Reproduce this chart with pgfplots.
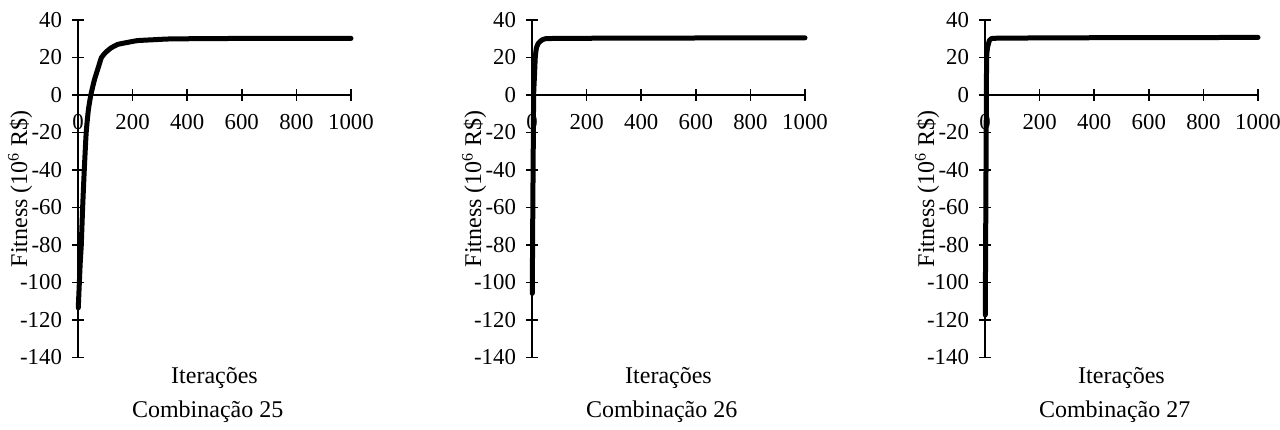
\documentclass[border=0pt]{standalone}
\usepackage{pgfplots}
\pgfplotsset{compat=1.18}
\usepackage{fontspec}
\setmainfont{Liberation Serif}
\newcommand\tf{\fontsize{11.4}{13}\selectfont}
\pgfplotstableread{
x y
1 -113.5
5 -100
8 -90
12 -80
17 -60
23 -40
30 -20
38 -8
47 0
60 8
75 15
86 20
100 22.5
120 25
146 27
180 28
218 29
280 29.5
338 29.9
500 30.1
700 30.2
1000 30.2
}\datA
\pgfplotstableread{
x y
1 -105.8
3 -60
5 -20
6 0
9 10
12 20
16 25
23 27.5
35 29.2
49 30
100 30.2
300 30.3
600 30.4
1000 30.5
}\datB
\pgfplotstableread{
x y
1 -117.3
3 -60
5 0
6 20
9 25
12 27
16 29
22 30
50 30.3
300 30.5
600 30.6
1000 30.7
}\datC
\pgfplotsset{
  panel/.style={
    scale only axis,
    width=136.5pt, height=168.75pt,
    anchor=origin,
    axis lines=middle,
    axis line style={-, line width=0.75pt},
    every inner x axis line/.append style={-},
    every inner y axis line/.append style={-},
    xmin=0, xmax=1000, ymin=-140, ymax=40,
    xtick={0,200,...,1000},
    ytick={-140,-120,...,40},
    xticklabels={\tf 0,\tf 200,\tf 400,\tf 600,\tf 800,\tf 1000},
    yticklabels={\tf -140,\tf -120,\tf -100,\tf -80,\tf -60,\tf -40,\tf -20,\tf 0,\tf 20,\tf 40},
    hide obscured x ticks=false,
    hide obscured y ticks=false,
    tick align=center,
    major tick length=6pt,
    tick style={line width=0.75pt, black},
    xticklabel style={anchor=north, yshift=-3pt},
    yticklabel style={anchor=east, xshift=-1.5pt},
    xlabel={\fontsize{12}{14}\selectfont Iterações},
    ylabel={\fontsize{12}{14}\selectfont Fitness (10\textsuperscript{6} R\$)},
    every axis x label/.style={at={(axis description cs:0.5,-0.06)}, anchor=center},
    every axis y label/.style={at={(axis description cs:-0.212,0.5)}, rotate=90, anchor=center},
    title style={at={(axis description cs:0.475,-0.195)}, anchor=center, yshift=0pt},
    clip=false,
  },
  curve/.style={black, line width=2.5pt, line join=round, line cap=round, no marks, smooth, tension=0.3},
}
\begin{document}
\begin{tikzpicture}
\useasboundingbox (0pt,0pt) rectangle (640pt,214.5pt);
\begin{axis}[panel, at={(39pt,167pt)}, title={\fontsize{12}{14}\selectfont Combinação 25}]
\addplot[curve] table[x=x,y=y] {\datA};
\end{axis}
\begin{axis}[panel, at={(266pt,167pt)}, title={\fontsize{12}{14}\selectfont Combinação 26}]
\addplot[curve] table[x=x,y=y] {\datB};
\end{axis}
\begin{axis}[panel, at={(492.5pt,167pt)}, title={\fontsize{12}{14}\selectfont Combinação 27}]
\addplot[curve] table[x=x,y=y] {\datC};
\end{axis}
\end{tikzpicture}
\end{document}
